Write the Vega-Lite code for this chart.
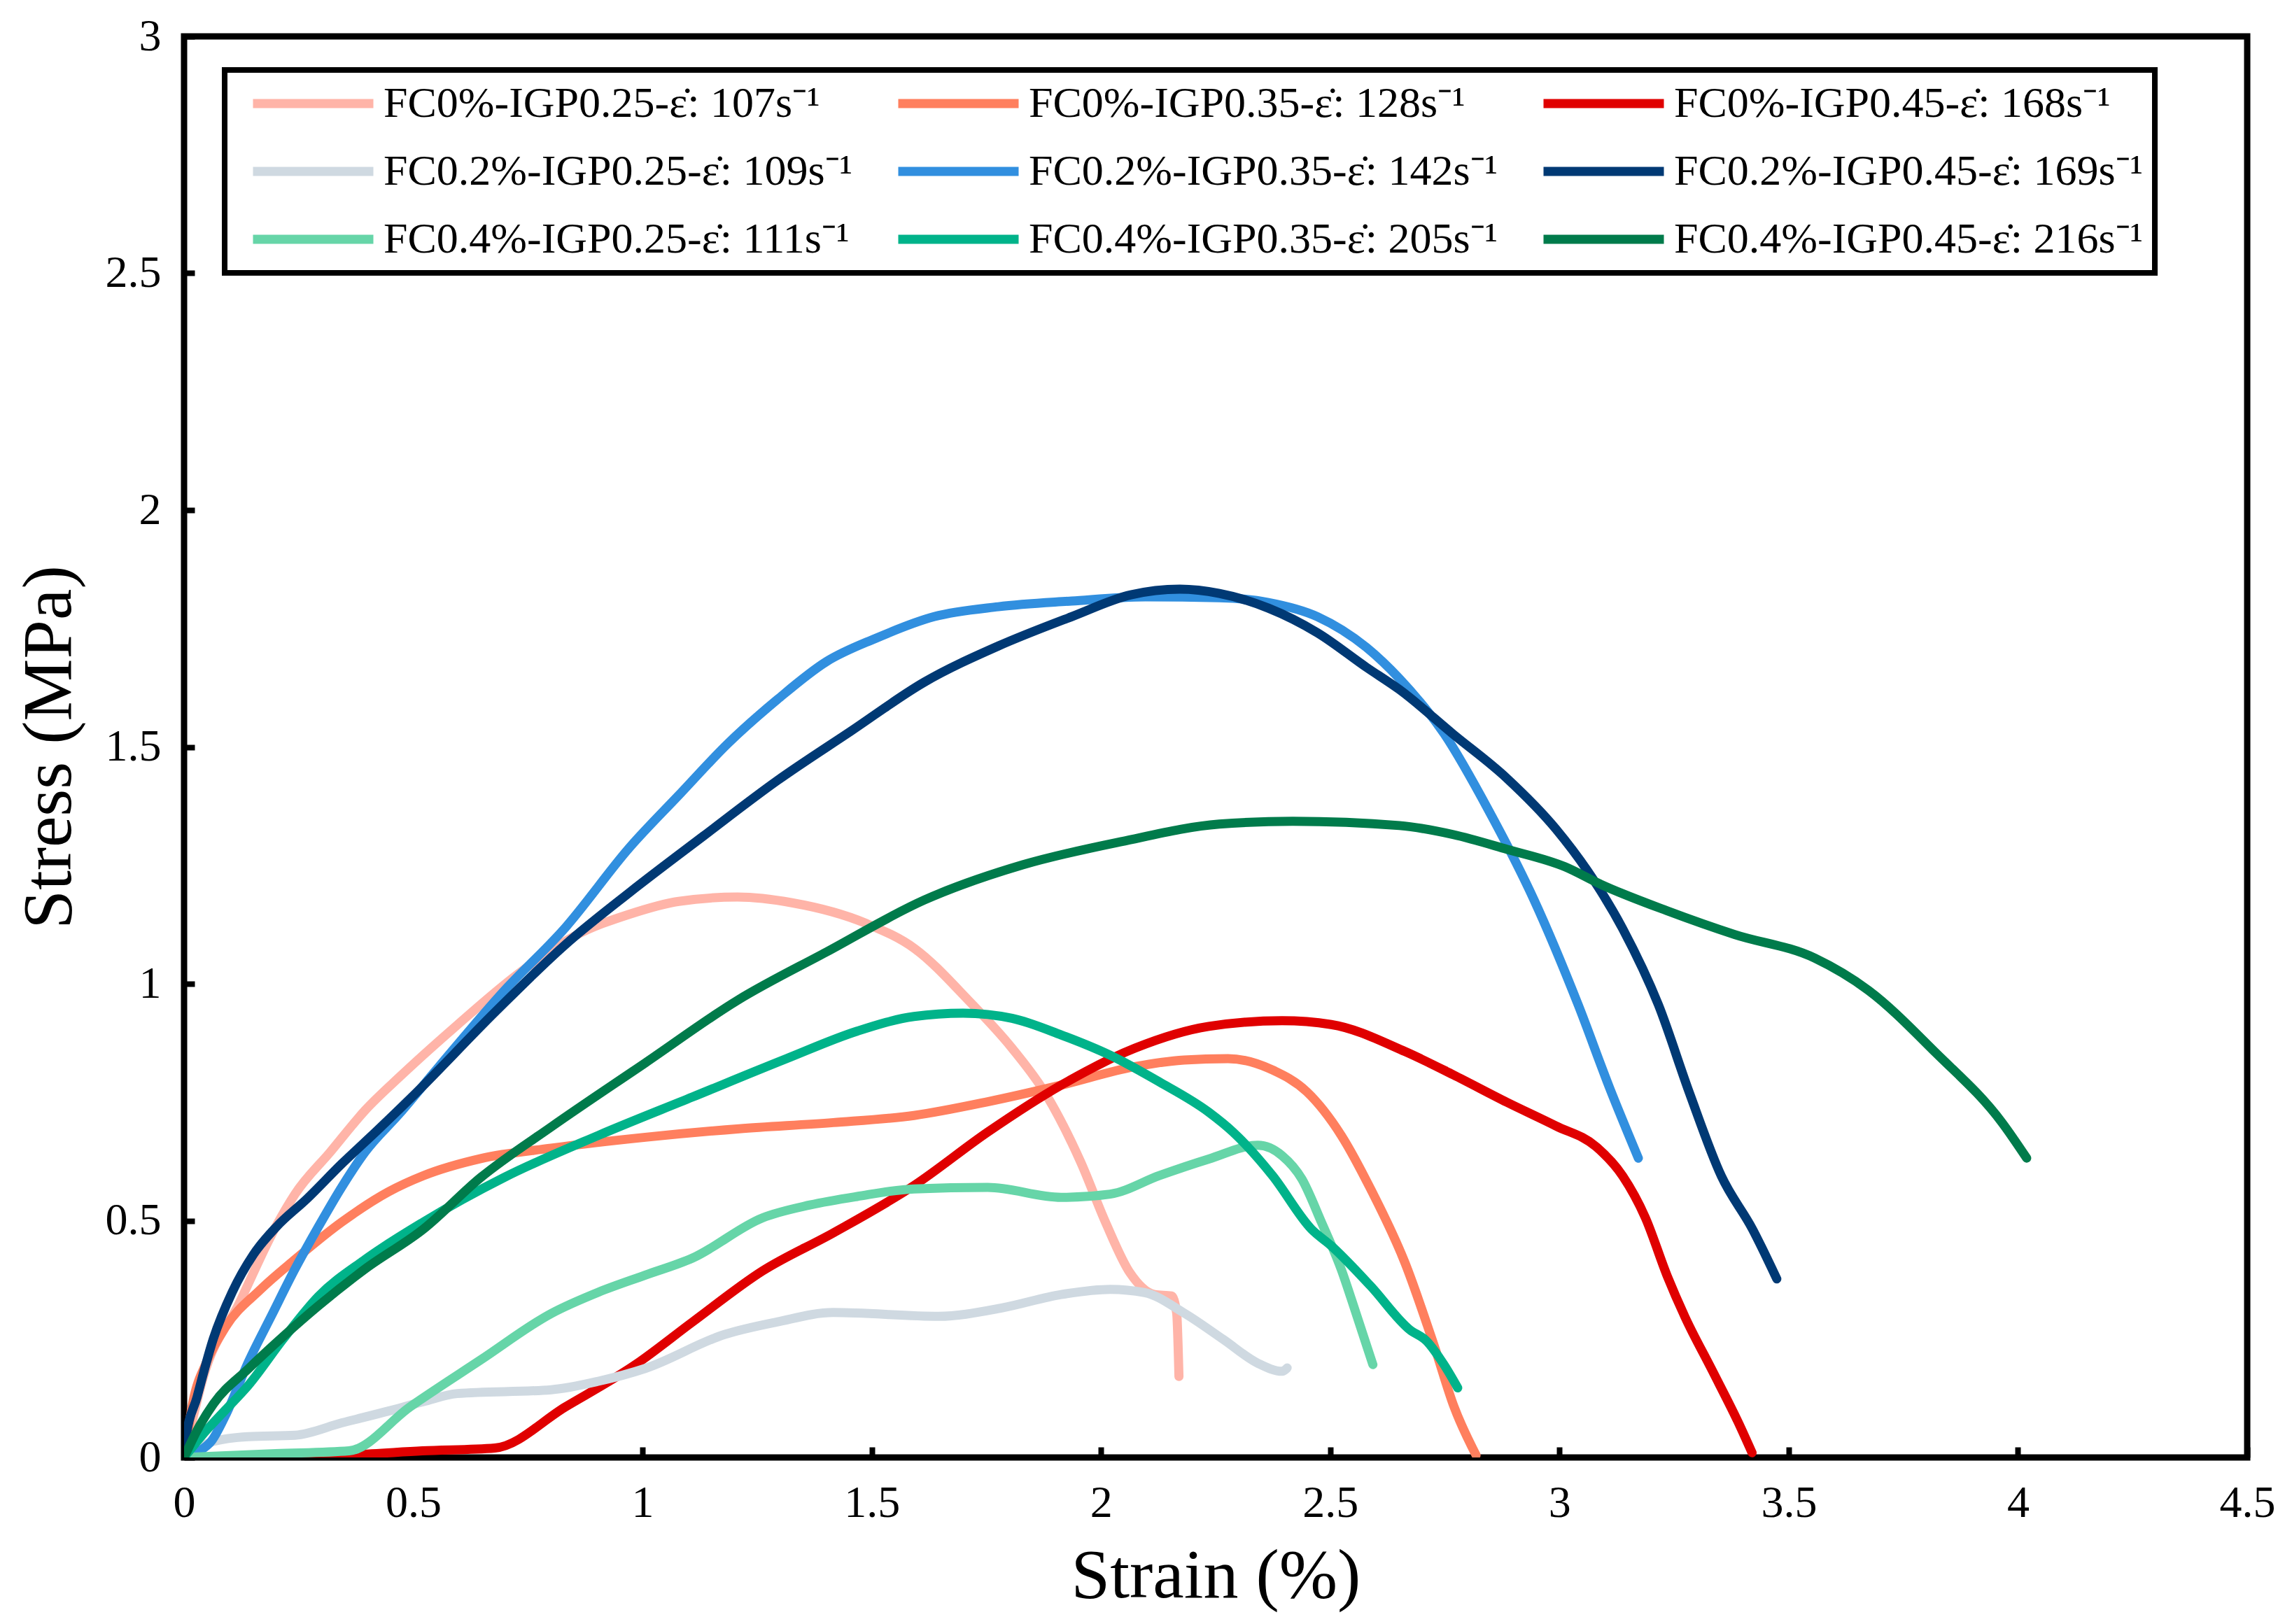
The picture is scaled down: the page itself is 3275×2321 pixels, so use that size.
{
  "$schema": "https://vega.github.io/schema/vega-lite/v6.json",
  "width": 2948,
  "height": 2031,
  "autosize": {"type": "none"},
  "padding": {"left": 263, "top": 52, "right": 64, "bottom": 238},
  "background": "white",
  "datasets": {
    "curves": [
      {"s":"FC0%-IGP0.25-ε̇: 107s⁻¹","x":0,"y":0},{"s":"FC0%-IGP0.25-ε̇: 107s⁻¹","x":0.042,"y":0.17},{"s":"FC0%-IGP0.25-ε̇: 107s⁻¹","x":0.12,"y":0.325},{"s":"FC0%-IGP0.25-ε̇: 107s⁻¹","x":0.2,"y":0.487},{"s":"FC0%-IGP0.25-ε̇: 107s⁻¹","x":0.242,"y":0.556},{"s":"FC0%-IGP0.25-ε̇: 107s⁻¹","x":0.319,"y":0.645},{"s":"FC0%-IGP0.25-ε̇: 107s⁻¹","x":0.395,"y":0.733},{"s":"FC0%-IGP0.25-ε̇: 107s⁻¹","x":0.473,"y":0.806},{"s":"FC0%-IGP0.25-ε̇: 107s⁻¹","x":0.596,"y":0.913},{"s":"FC0%-IGP0.25-ε̇: 107s⁻¹","x":0.729,"y":1.021},{"s":"FC0%-IGP0.25-ε̇: 107s⁻¹","x":0.852,"y":1.101},{"s":"FC0%-IGP0.25-ε̇: 107s⁻¹","x":0.972,"y":1.147},{"s":"FC0%-IGP0.25-ε̇: 107s⁻¹","x":1.079,"y":1.174},{"s":"FC0%-IGP0.25-ε̇: 107s⁻¹","x":1.207,"y":1.183},{"s":"FC0%-IGP0.25-ε̇: 107s⁻¹","x":1.326,"y":1.171},{"s":"FC0%-IGP0.25-ε̇: 107s⁻¹","x":1.486,"y":1.128},{"s":"FC0%-IGP0.25-ε̇: 107s⁻¹","x":1.594,"y":1.074},{"s":"FC0%-IGP0.25-ε̇: 107s⁻¹","x":1.711,"y":0.965},{"s":"FC0%-IGP0.25-ε̇: 107s⁻¹","x":1.806,"y":0.864},{"s":"FC0%-IGP0.25-ε̇: 107s⁻¹","x":1.881,"y":0.765},{"s":"FC0%-IGP0.25-ε̇: 107s⁻¹","x":1.956,"y":0.623},{"s":"FC0%-IGP0.25-ε̇: 107s⁻¹","x":2.01,"y":0.496},{"s":"FC0%-IGP0.25-ε̇: 107s⁻¹","x":2.063,"y":0.39},{"s":"FC0%-IGP0.25-ε̇: 107s⁻¹","x":2.117,"y":0.344},{"s":"FC0%-IGP0.25-ε̇: 107s⁻¹","x":2.154,"y":0.341},{"s":"FC0%-IGP0.25-ε̇: 107s⁻¹","x":2.165,"y":0.305},{"s":"FC0%-IGP0.25-ε̇: 107s⁻¹","x":2.17,"y":0.171},

      {"s":"FC0%-IGP0.35-ε̇: 128s⁻¹","x":0,"y":0},{"s":"FC0%-IGP0.35-ε̇: 128s⁻¹","x":0.02,"y":0.12},{"s":"FC0%-IGP0.35-ε̇: 128s⁻¹","x":0.049,"y":0.201},{"s":"FC0%-IGP0.35-ε̇: 128s⁻¹","x":0.09,"y":0.275},{"s":"FC0%-IGP0.35-ε̇: 128s⁻¹","x":0.166,"y":0.354},{"s":"FC0%-IGP0.35-ε̇: 128s⁻¹","x":0.242,"y":0.418},{"s":"FC0%-IGP0.35-ε̇: 128s⁻¹","x":0.344,"y":0.497},{"s":"FC0%-IGP0.35-ε̇: 128s⁻¹","x":0.446,"y":0.561},{"s":"FC0%-IGP0.35-ε̇: 128s⁻¹","x":0.522,"y":0.595},{"s":"FC0%-IGP0.35-ε̇: 128s⁻¹","x":0.647,"y":0.631},{"s":"FC0%-IGP0.35-ε̇: 128s⁻¹","x":0.801,"y":0.653},{"s":"FC0%-IGP0.35-ε̇: 128s⁻¹","x":1.006,"y":0.676},{"s":"FC0%-IGP0.35-ε̇: 128s⁻¹","x":1.211,"y":0.694},{"s":"FC0%-IGP0.35-ε̇: 128s⁻¹","x":1.416,"y":0.707},{"s":"FC0%-IGP0.35-ε̇: 128s⁻¹","x":1.592,"y":0.722},{"s":"FC0%-IGP0.35-ε̇: 128s⁻¹","x":1.753,"y":0.751},{"s":"FC0%-IGP0.35-ε̇: 128s⁻¹","x":1.913,"y":0.786},{"s":"FC0%-IGP0.35-ε̇: 128s⁻¹","x":2.074,"y":0.825},{"s":"FC0%-IGP0.35-ε̇: 128s⁻¹","x":2.181,"y":0.839},{"s":"FC0%-IGP0.35-ε̇: 128s⁻¹","x":2.277,"y":0.842},{"s":"FC0%-IGP0.35-ε̇: 128s⁻¹","x":2.374,"y":0.818},{"s":"FC0%-IGP0.35-ε̇: 128s⁻¹","x":2.449,"y":0.772},{"s":"FC0%-IGP0.35-ε̇: 128s⁻¹","x":2.524,"y":0.68},{"s":"FC0%-IGP0.35-ε̇: 128s⁻¹","x":2.588,"y":0.567},{"s":"FC0%-IGP0.35-ε̇: 128s⁻¹","x":2.663,"y":0.411},{"s":"FC0%-IGP0.35-ε̇: 128s⁻¹","x":2.727,"y":0.235},{"s":"FC0%-IGP0.35-ε̇: 128s⁻¹","x":2.77,"y":0.107},{"s":"FC0%-IGP0.35-ε̇: 128s⁻¹","x":2.818,"y":0.005},

      {"s":"FC0%-IGP0.45-ε̇: 168s⁻¹","x":0,"y":0},{"s":"FC0%-IGP0.45-ε̇: 168s⁻¹","x":0.37,"y":0.006},{"s":"FC0%-IGP0.45-ε̇: 168s⁻¹","x":0.52,"y":0.014},{"s":"FC0%-IGP0.45-ε̇: 168s⁻¹","x":0.678,"y":0.02},{"s":"FC0%-IGP0.45-ε̇: 168s⁻¹","x":0.832,"y":0.107},{"s":"FC0%-IGP0.45-ε̇: 168s⁻¹","x":0.986,"y":0.197},{"s":"FC0%-IGP0.45-ε̇: 168s⁻¹","x":1.109,"y":0.286},{"s":"FC0%-IGP0.45-ε̇: 168s⁻¹","x":1.262,"y":0.394},{"s":"FC0%-IGP0.45-ε̇: 168s⁻¹","x":1.416,"y":0.474},{"s":"FC0%-IGP0.45-ε̇: 168s⁻¹","x":1.592,"y":0.574},{"s":"FC0%-IGP0.45-ε̇: 168s⁻¹","x":1.753,"y":0.687},{"s":"FC0%-IGP0.45-ε̇: 168s⁻¹","x":1.913,"y":0.786},{"s":"FC0%-IGP0.45-ε̇: 168s⁻¹","x":2.074,"y":0.864},{"s":"FC0%-IGP0.45-ε̇: 168s⁻¹","x":2.235,"y":0.91},{"s":"FC0%-IGP0.45-ε̇: 168s⁻¹","x":2.395,"y":0.922},{"s":"FC0%-IGP0.45-ε̇: 168s⁻¹","x":2.502,"y":0.914},{"s":"FC0%-IGP0.45-ε̇: 168s⁻¹","x":2.663,"y":0.857},{"s":"FC0%-IGP0.45-ε̇: 168s⁻¹","x":2.768,"y":0.808},{"s":"FC0%-IGP0.45-ε̇: 168s⁻¹","x":2.885,"y":0.75},{"s":"FC0%-IGP0.45-ε̇: 168s⁻¹","x":2.992,"y":0.7},{"s":"FC0%-IGP0.45-ε̇: 168s⁻¹","x":3.08,"y":0.656},{"s":"FC0%-IGP0.45-ε̇: 168s⁻¹","x":3.138,"y":0.594},{"s":"FC0%-IGP0.45-ε̇: 168s⁻¹","x":3.187,"y":0.507},{"s":"FC0%-IGP0.45-ε̇: 168s⁻¹","x":3.235,"y":0.383},{"s":"FC0%-IGP0.45-ε̇: 168s⁻¹","x":3.274,"y":0.296},{"s":"FC0%-IGP0.45-ε̇: 168s⁻¹","x":3.333,"y":0.184},{"s":"FC0%-IGP0.45-ε̇: 168s⁻¹","x":3.391,"y":0.072},{"s":"FC0%-IGP0.45-ε̇: 168s⁻¹","x":3.42,"y":0.01},

      {"s":"FC0.2%-IGP0.25-ε̇: 109s⁻¹","x":0,"y":0},{"s":"FC0.2%-IGP0.25-ε̇: 109s⁻¹","x":0.064,"y":0.034},{"s":"FC0.2%-IGP0.25-ε̇: 109s⁻¹","x":0.14,"y":0.044},{"s":"FC0.2%-IGP0.25-ε̇: 109s⁻¹","x":0.242,"y":0.047},{"s":"FC0.2%-IGP0.25-ε̇: 109s⁻¹","x":0.344,"y":0.073},{"s":"FC0.2%-IGP0.25-ε̇: 109s⁻¹","x":0.446,"y":0.098},{"s":"FC0.2%-IGP0.25-ε̇: 109s⁻¹","x":0.522,"y":0.118},{"s":"FC0.2%-IGP0.25-ε̇: 109s⁻¹","x":0.596,"y":0.135},{"s":"FC0.2%-IGP0.25-ε̇: 109s⁻¹","x":0.801,"y":0.143},{"s":"FC0.2%-IGP0.25-ε̇: 109s⁻¹","x":0.904,"y":0.161},{"s":"FC0.2%-IGP0.25-ε̇: 109s⁻¹","x":1.006,"y":0.188},{"s":"FC0.2%-IGP0.25-ε̇: 109s⁻¹","x":1.18,"y":0.26},{"s":"FC0.2%-IGP0.25-ε̇: 109s⁻¹","x":1.293,"y":0.286},{"s":"FC0.2%-IGP0.25-ε̇: 109s⁻¹","x":1.416,"y":0.306},{"s":"FC0.2%-IGP0.25-ε̇: 109s⁻¹","x":1.646,"y":0.298},{"s":"FC0.2%-IGP0.25-ε̇: 109s⁻¹","x":1.785,"y":0.316},{"s":"FC0.2%-IGP0.25-ε̇: 109s⁻¹","x":1.913,"y":0.344},{"s":"FC0.2%-IGP0.25-ε̇: 109s⁻¹","x":2.02,"y":0.355},{"s":"FC0.2%-IGP0.25-ε̇: 109s⁻¹","x":2.095,"y":0.348},{"s":"FC0.2%-IGP0.25-ε̇: 109s⁻¹","x":2.181,"y":0.305},{"s":"FC0.2%-IGP0.25-ε̇: 109s⁻¹","x":2.267,"y":0.249},{"s":"FC0.2%-IGP0.25-ε̇: 109s⁻¹","x":2.342,"y":0.199},{"s":"FC0.2%-IGP0.25-ε̇: 109s⁻¹","x":2.395,"y":0.182},{"s":"FC0.2%-IGP0.25-ε̇: 109s⁻¹","x":2.406,"y":0.189},

      {"s":"FC0.2%-IGP0.35-ε̇: 142s⁻¹","x":0,"y":0},{"s":"FC0.2%-IGP0.35-ε̇: 142s⁻¹","x":0.03,"y":0.012},{"s":"FC0.2%-IGP0.35-ε̇: 142s⁻¹","x":0.06,"y":0.035},{"s":"FC0.2%-IGP0.35-ε̇: 142s⁻¹","x":0.09,"y":0.088},{"s":"FC0.2%-IGP0.35-ε̇: 142s⁻¹","x":0.14,"y":0.201},{"s":"FC0.2%-IGP0.35-ε̇: 142s⁻¹","x":0.191,"y":0.3},{"s":"FC0.2%-IGP0.35-ε̇: 142s⁻¹","x":0.242,"y":0.398},{"s":"FC0.2%-IGP0.35-ε̇: 142s⁻¹","x":0.293,"y":0.487},{"s":"FC0.2%-IGP0.35-ε̇: 142s⁻¹","x":0.344,"y":0.571},{"s":"FC0.2%-IGP0.35-ε̇: 142s⁻¹","x":0.395,"y":0.645},{"s":"FC0.2%-IGP0.35-ε̇: 142s⁻¹","x":0.471,"y":0.727},{"s":"FC0.2%-IGP0.35-ε̇: 142s⁻¹","x":0.555,"y":0.824},{"s":"FC0.2%-IGP0.35-ε̇: 142s⁻¹","x":0.698,"y":0.985},{"s":"FC0.2%-IGP0.35-ε̇: 142s⁻¹","x":0.832,"y":1.119},{"s":"FC0.2%-IGP0.35-ε̇: 142s⁻¹","x":0.972,"y":1.288},{"s":"FC0.2%-IGP0.35-ε̇: 142s⁻¹","x":1.079,"y":1.398},{"s":"FC0.2%-IGP0.35-ε̇: 142s⁻¹","x":1.187,"y":1.508},{"s":"FC0.2%-IGP0.35-ε̇: 142s⁻¹","x":1.294,"y":1.6},{"s":"FC0.2%-IGP0.35-ε̇: 142s⁻¹","x":1.401,"y":1.68},{"s":"FC0.2%-IGP0.35-ε̇: 142s⁻¹","x":1.508,"y":1.729},{"s":"FC0.2%-IGP0.35-ε̇: 142s⁻¹","x":1.636,"y":1.775},{"s":"FC0.2%-IGP0.35-ε̇: 142s⁻¹","x":1.776,"y":1.796},{"s":"FC0.2%-IGP0.35-ε̇: 142s⁻¹","x":1.936,"y":1.808},{"s":"FC0.2%-IGP0.35-ε̇: 142s⁻¹","x":2.097,"y":1.817},{"s":"FC0.2%-IGP0.35-ε̇: 142s⁻¹","x":2.258,"y":1.815},{"s":"FC0.2%-IGP0.35-ε̇: 142s⁻¹","x":2.365,"y":1.805},{"s":"FC0.2%-IGP0.35-ε̇: 142s⁻¹","x":2.472,"y":1.775},{"s":"FC0.2%-IGP0.35-ε̇: 142s⁻¹","x":2.579,"y":1.71},{"s":"FC0.2%-IGP0.35-ε̇: 142s⁻¹","x":2.651,"y":1.644},{"s":"FC0.2%-IGP0.35-ε̇: 142s⁻¹","x":2.749,"y":1.527},{"s":"FC0.2%-IGP0.35-ε̇: 142s⁻¹","x":2.846,"y":1.365},{"s":"FC0.2%-IGP0.35-ε̇: 142s⁻¹","x":2.944,"y":1.178},{"s":"FC0.2%-IGP0.35-ε̇: 142s⁻¹","x":3.041,"y":0.955},{"s":"FC0.2%-IGP0.35-ε̇: 142s⁻¹","x":3.109,"y":0.781},{"s":"FC0.2%-IGP0.35-ε̇: 142s⁻¹","x":3.172,"y":0.632},

      {"s":"FC0.2%-IGP0.45-ε̇: 169s⁻¹","x":0,"y":0},{"s":"FC0.2%-IGP0.45-ε̇: 169s⁻¹","x":0.003,"y":0.034},{"s":"FC0.2%-IGP0.45-ε̇: 169s⁻¹","x":0.0285,"y":0.128},{"s":"FC0.2%-IGP0.45-ε̇: 169s⁻¹","x":0.064,"y":0.251},{"s":"FC0.2%-IGP0.45-ε̇: 169s⁻¹","x":0.105,"y":0.349},{"s":"FC0.2%-IGP0.45-ε̇: 169s⁻¹","x":0.151,"y":0.428},{"s":"FC0.2%-IGP0.45-ε̇: 169s⁻¹","x":0.2015,"y":0.487},{"s":"FC0.2%-IGP0.45-ε̇: 169s⁻¹","x":0.268,"y":0.546},{"s":"FC0.2%-IGP0.45-ε̇: 169s⁻¹","x":0.344,"y":0.62},{"s":"FC0.2%-IGP0.45-ε̇: 169s⁻¹","x":0.42,"y":0.689},{"s":"FC0.2%-IGP0.45-ε̇: 169s⁻¹","x":0.496,"y":0.76},{"s":"FC0.2%-IGP0.45-ε̇: 169s⁻¹","x":0.678,"y":0.94},{"s":"FC0.2%-IGP0.45-ε̇: 169s⁻¹","x":0.832,"y":1.083},{"s":"FC0.2%-IGP0.45-ε̇: 169s⁻¹","x":0.972,"y":1.193},{"s":"FC0.2%-IGP0.45-ε̇: 169s⁻¹","x":1.133,"y":1.312},{"s":"FC0.2%-IGP0.45-ε̇: 169s⁻¹","x":1.294,"y":1.429},{"s":"FC0.2%-IGP0.45-ε̇: 169s⁻¹","x":1.454,"y":1.533},{"s":"FC0.2%-IGP0.45-ε̇: 169s⁻¹","x":1.615,"y":1.637},{"s":"FC0.2%-IGP0.45-ε̇: 169s⁻¹","x":1.776,"y":1.713},{"s":"FC0.2%-IGP0.45-ε̇: 169s⁻¹","x":1.936,"y":1.775},{"s":"FC0.2%-IGP0.45-ε̇: 169s⁻¹","x":2.065,"y":1.821},{"s":"FC0.2%-IGP0.45-ε̇: 169s⁻¹","x":2.172,"y":1.833},{"s":"FC0.2%-IGP0.45-ε̇: 169s⁻¹","x":2.258,"y":1.824},{"s":"FC0.2%-IGP0.45-ε̇: 169s⁻¹","x":2.365,"y":1.793},{"s":"FC0.2%-IGP0.45-ε̇: 169s⁻¹","x":2.472,"y":1.741},{"s":"FC0.2%-IGP0.45-ε̇: 169s⁻¹","x":2.579,"y":1.668},{"s":"FC0.2%-IGP0.45-ε̇: 169s⁻¹","x":2.651,"y":1.621},{"s":"FC0.2%-IGP0.45-ε̇: 169s⁻¹","x":2.768,"y":1.527},{"s":"FC0.2%-IGP0.45-ε̇: 169s⁻¹","x":2.885,"y":1.434},{"s":"FC0.2%-IGP0.45-ε̇: 169s⁻¹","x":2.992,"y":1.327},{"s":"FC0.2%-IGP0.45-ε̇: 169s⁻¹","x":3.06,"y":1.24},{"s":"FC0.2%-IGP0.45-ε̇: 169s⁻¹","x":3.138,"y":1.116},{"s":"FC0.2%-IGP0.45-ε̇: 169s⁻¹","x":3.216,"y":0.955},{"s":"FC0.2%-IGP0.45-ε̇: 169s⁻¹","x":3.284,"y":0.768},{"s":"FC0.2%-IGP0.45-ε̇: 169s⁻¹","x":3.353,"y":0.594},{"s":"FC0.2%-IGP0.45-ε̇: 169s⁻¹","x":3.421,"y":0.482},{"s":"FC0.2%-IGP0.45-ε̇: 169s⁻¹","x":3.474,"y":0.377},

      {"s":"FC0.4%-IGP0.25-ε̇: 111s⁻¹","x":0,"y":0},{"s":"FC0.4%-IGP0.25-ε̇: 111s⁻¹","x":0.2,"y":0.008},{"s":"FC0.4%-IGP0.25-ε̇: 111s⁻¹","x":0.36,"y":0.014},{"s":"FC0.4%-IGP0.25-ε̇: 111s⁻¹","x":0.493,"y":0.107},{"s":"FC0.4%-IGP0.25-ε̇: 111s⁻¹","x":0.647,"y":0.206},{"s":"FC0.4%-IGP0.25-ε̇: 111s⁻¹","x":0.801,"y":0.304},{"s":"FC0.4%-IGP0.25-ε̇: 111s⁻¹","x":0.904,"y":0.349},{"s":"FC0.4%-IGP0.25-ε̇: 111s⁻¹","x":1.006,"y":0.385},{"s":"FC0.4%-IGP0.25-ε̇: 111s⁻¹","x":1.109,"y":0.421},{"s":"FC0.4%-IGP0.25-ε̇: 111s⁻¹","x":1.262,"y":0.506},{"s":"FC0.4%-IGP0.25-ε̇: 111s⁻¹","x":1.365,"y":0.533},{"s":"FC0.4%-IGP0.25-ε̇: 111s⁻¹","x":1.468,"y":0.551},{"s":"FC0.4%-IGP0.25-ε̇: 111s⁻¹","x":1.592,"y":0.567},{"s":"FC0.4%-IGP0.25-ε̇: 111s⁻¹","x":1.753,"y":0.57},{"s":"FC0.4%-IGP0.25-ε̇: 111s⁻¹","x":1.913,"y":0.549},{"s":"FC0.4%-IGP0.25-ε̇: 111s⁻¹","x":2.02,"y":0.556},{"s":"FC0.4%-IGP0.25-ε̇: 111s⁻¹","x":2.127,"y":0.595},{"s":"FC0.4%-IGP0.25-ε̇: 111s⁻¹","x":2.235,"y":0.63},{"s":"FC0.4%-IGP0.25-ε̇: 111s⁻¹","x":2.342,"y":0.659},{"s":"FC0.4%-IGP0.25-ε̇: 111s⁻¹","x":2.395,"y":0.637},{"s":"FC0.4%-IGP0.25-ε̇: 111s⁻¹","x":2.438,"y":0.588},{"s":"FC0.4%-IGP0.25-ε̇: 111s⁻¹","x":2.481,"y":0.496},{"s":"FC0.4%-IGP0.25-ε̇: 111s⁻¹","x":2.524,"y":0.397},{"s":"FC0.4%-IGP0.25-ε̇: 111s⁻¹","x":2.556,"y":0.305},{"s":"FC0.4%-IGP0.25-ε̇: 111s⁻¹","x":2.593,"y":0.196},

      {"s":"FC0.4%-IGP0.35-ε̇: 205s⁻¹","x":0,"y":0},{"s":"FC0.4%-IGP0.35-ε̇: 205s⁻¹","x":0.042,"y":0.05},{"s":"FC0.4%-IGP0.35-ε̇: 205s⁻¹","x":0.09,"y":0.1},{"s":"FC0.4%-IGP0.35-ε̇: 205s⁻¹","x":0.14,"y":0.152},{"s":"FC0.4%-IGP0.35-ε̇: 205s⁻¹","x":0.217,"y":0.251},{"s":"FC0.4%-IGP0.35-ε̇: 205s⁻¹","x":0.293,"y":0.34},{"s":"FC0.4%-IGP0.35-ε̇: 205s⁻¹","x":0.395,"y":0.418},{"s":"FC0.4%-IGP0.35-ε̇: 205s⁻¹","x":0.522,"y":0.497},{"s":"FC0.4%-IGP0.35-ε̇: 205s⁻¹","x":0.698,"y":0.591},{"s":"FC0.4%-IGP0.35-ε̇: 205s⁻¹","x":0.904,"y":0.68},{"s":"FC0.4%-IGP0.35-ε̇: 205s⁻¹","x":1.109,"y":0.761},{"s":"FC0.4%-IGP0.35-ε̇: 205s⁻¹","x":1.314,"y":0.842},{"s":"FC0.4%-IGP0.35-ε̇: 205s⁻¹","x":1.468,"y":0.9},{"s":"FC0.4%-IGP0.35-ε̇: 205s⁻¹","x":1.592,"y":0.931},{"s":"FC0.4%-IGP0.35-ε̇: 205s⁻¹","x":1.699,"y":0.938},{"s":"FC0.4%-IGP0.35-ε̇: 205s⁻¹","x":1.806,"y":0.927},{"s":"FC0.4%-IGP0.35-ε̇: 205s⁻¹","x":1.913,"y":0.892},{"s":"FC0.4%-IGP0.35-ε̇: 205s⁻¹","x":2.02,"y":0.849},{"s":"FC0.4%-IGP0.35-ε̇: 205s⁻¹","x":2.127,"y":0.793},{"s":"FC0.4%-IGP0.35-ε̇: 205s⁻¹","x":2.235,"y":0.729},{"s":"FC0.4%-IGP0.35-ε̇: 205s⁻¹","x":2.288,"y":0.687},{"s":"FC0.4%-IGP0.35-ε̇: 205s⁻¹","x":2.374,"y":0.595},{"s":"FC0.4%-IGP0.35-ε̇: 205s⁻¹","x":2.459,"y":0.482},{"s":"FC0.4%-IGP0.35-ε̇: 205s⁻¹","x":2.502,"y":0.447},{"s":"FC0.4%-IGP0.35-ε̇: 205s⁻¹","x":2.588,"y":0.362},{"s":"FC0.4%-IGP0.35-ε̇: 205s⁻¹","x":2.673,"y":0.27},{"s":"FC0.4%-IGP0.35-ε̇: 205s⁻¹","x":2.71,"y":0.246},{"s":"FC0.4%-IGP0.35-ε̇: 205s⁻¹","x":2.748,"y":0.196},{"s":"FC0.4%-IGP0.35-ε̇: 205s⁻¹","x":2.778,"y":0.147},

      {"s":"FC0.4%-IGP0.45-ε̇: 216s⁻¹","x":0,"y":0},{"s":"FC0.4%-IGP0.45-ε̇: 216s⁻¹","x":0.03,"y":0.06},{"s":"FC0.4%-IGP0.45-ε̇: 216s⁻¹","x":0.064,"y":0.113},{"s":"FC0.4%-IGP0.45-ε̇: 216s⁻¹","x":0.14,"y":0.187},{"s":"FC0.4%-IGP0.45-ε̇: 216s⁻¹","x":0.217,"y":0.256},{"s":"FC0.4%-IGP0.45-ε̇: 216s⁻¹","x":0.293,"y":0.32},{"s":"FC0.4%-IGP0.45-ε̇: 216s⁻¹","x":0.395,"y":0.398},{"s":"FC0.4%-IGP0.45-ε̇: 216s⁻¹","x":0.522,"y":0.482},{"s":"FC0.4%-IGP0.45-ε̇: 216s⁻¹","x":0.647,"y":0.591},{"s":"FC0.4%-IGP0.45-ε̇: 216s⁻¹","x":0.801,"y":0.698},{"s":"FC0.4%-IGP0.45-ε̇: 216s⁻¹","x":1.006,"y":0.833},{"s":"FC0.4%-IGP0.45-ε̇: 216s⁻¹","x":1.207,"y":0.965},{"s":"FC0.4%-IGP0.45-ε̇: 216s⁻¹","x":1.401,"y":1.067},{"s":"FC0.4%-IGP0.45-ε̇: 216s⁻¹","x":1.615,"y":1.177},{"s":"FC0.4%-IGP0.45-ε̇: 216s⁻¹","x":1.829,"y":1.251},{"s":"FC0.4%-IGP0.45-ε̇: 216s⁻¹","x":2.044,"y":1.3},{"s":"FC0.4%-IGP0.45-ε̇: 216s⁻¹","x":2.258,"y":1.337},{"s":"FC0.4%-IGP0.45-ε̇: 216s⁻¹","x":2.418,"y":1.343},{"s":"FC0.4%-IGP0.45-ε̇: 216s⁻¹","x":2.651,"y":1.334},{"s":"FC0.4%-IGP0.45-ε̇: 216s⁻¹","x":2.768,"y":1.315},{"s":"FC0.4%-IGP0.45-ε̇: 216s⁻¹","x":2.885,"y":1.284},{"s":"FC0.4%-IGP0.45-ε̇: 216s⁻¹","x":3.012,"y":1.247},{"s":"FC0.4%-IGP0.45-ε̇: 216s⁻¹","x":3.09,"y":1.21},{"s":"FC0.4%-IGP0.45-ε̇: 216s⁻¹","x":3.235,"y":1.154},{"s":"FC0.4%-IGP0.45-ε̇: 216s⁻¹","x":3.382,"y":1.104},{"s":"FC0.4%-IGP0.45-ε̇: 216s⁻¹","x":3.557,"y":1.054},{"s":"FC0.4%-IGP0.45-ε̇: 216s⁻¹","x":3.674,"y":0.986},{"s":"FC0.4%-IGP0.45-ε̇: 216s⁻¹","x":3.82,"y":0.855},{"s":"FC0.4%-IGP0.45-ε̇: 216s⁻¹","x":3.966,"y":0.706},{"s":"FC0.4%-IGP0.45-ε̇: 216s⁻¹","x":4.019,"y":0.632}
    ]
  },
  "data": {"name": "curves"},
  "mark": {"type": "line", "strokeWidth": 13, "strokeCap": "round", "strokeJoin": "round", "interpolate": "monotone", "clip": true},
  "encoding": {
    "x": {
      "field": "x", "type": "quantitative", "title": "Strain (%)",
      "scale": {"domain": [0, 4.5], "nice": false, "zero": false},
      "axis": {"values": [0,0.5,1,1.5,2,2.5,3,3.5,4,4.5], "format": "~g", "labelFlush": false, "titleBaseline": "alphabetic", "titleY": 199}
    },
    "y": {
      "field": "y", "type": "quantitative", "title": "Stress (MPa)",
      "scale": {"domain": [0, 3], "nice": false, "zero": false},
      "axis": {"values": [0,0.5,1,1.5,2,2.5,3], "format": "~g", "labelFlush": false, "titleBaseline": "alphabetic", "titleX": -163, "titleAngle": -90}
    },
    "color": {
      "field": "s", "type": "nominal",
      "scale": {
        "domain": ["FC0%-IGP0.25-ε̇: 107s⁻¹","FC0%-IGP0.35-ε̇: 128s⁻¹","FC0%-IGP0.45-ε̇: 168s⁻¹","FC0.2%-IGP0.25-ε̇: 109s⁻¹","FC0.2%-IGP0.35-ε̇: 142s⁻¹","FC0.2%-IGP0.45-ε̇: 169s⁻¹","FC0.4%-IGP0.25-ε̇: 111s⁻¹","FC0.4%-IGP0.35-ε̇: 205s⁻¹","FC0.4%-IGP0.45-ε̇: 216s⁻¹"],
        "range": ["#FFB4A8","#FF7F5E","#E00000","#CFD9E1","#318FDF","#003974","#66D5A8","#00B38A","#007B4B"]
      },
      "legend": {
        "title": null, "orient": "none", "legendX": 58, "legendY": 48, "columns": 3, "direction": "horizontal",
        "symbolType": "stroke", "symbolSize": 29584, "symbolStrokeWidth": 13, "clipHeight": 64,
        "labelFontSize": 62, "labelFont": "Liberation Serif", "labelColor": "black", "labelLimit": 2000,
        "labelOffset": 8, "symbolOffset": 18, "columnPadding": 40, "rowPadding": 33, "padding": 16,
        "strokeColor": "black", "gridAlign": "all",
        "symbolOpacity": 1
      }
    }
  },
  "config": {
    "font": "Liberation Serif",
    "view": {"stroke": "black", "strokeWidth": 9},
    "legend": {"strokeWidth": 8},
    "axis": {
      "grid": false, "domain": false,
      "ticks": true, "tickSize": -15, "tickWidth": 8, "tickColor": "black",
      "labelFont": "Liberation Serif", "labelFontSize": 64, "labelColor": "black", "labelPadding": 48,
      "titleFont": "Liberation Serif", "titleFontSize": 100, "titleFontWeight": "normal", "titleColor": "black"
    }
  }
}
